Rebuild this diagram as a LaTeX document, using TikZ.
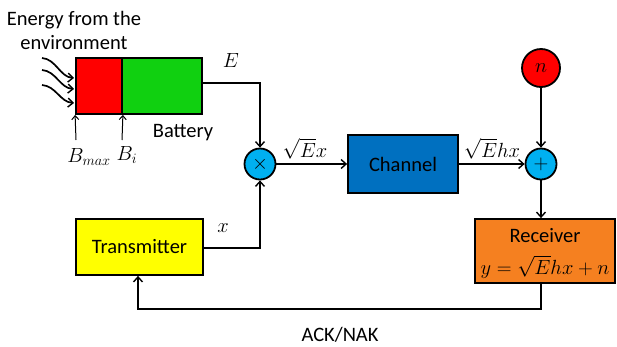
\RequirePackage{fix-cm}
\documentclass[tikz,border=0pt]{standalone}
\usepackage{fontspec}
\setmainfont{Carlito}
\usetikzlibrary{arrows.meta}
\definecolor{cred}{RGB}{255,0,0}
\definecolor{cgreen}{RGB}{16,208,16}
\definecolor{cyellow}{RGB}{255,255,0}
\definecolor{cblue}{RGB}{0,112,192}
\definecolor{ccyan}{RGB}{0,176,240}
\definecolor{corange}{RGB}{245,128,32}
\begin{document}
\begin{tikzpicture}[x=1pt,y=-1pt,
  every node/.style={font=\fontsize{20.5}{24}\selectfont, inner sep=0pt},
  blk/.style={draw=black, line width=1.8pt, rectangle, align=center},
  opc/.style={draw=black, line width=1.8pt, circle, fill=ccyan, minimum size=31pt},
  wire/.style={line width=1.7pt},
  arr/.style={wire, -{Straight Barb[length=5pt,width=9pt,line width=1.4pt]}},
  sarr/.style={line width=1pt, -{Straight Barb[length=4pt,width=7pt,line width=1pt]}}]
\useasboundingbox (0,0) rectangle (617,346);
% battery
\node[blk, fill=cred, minimum width=46pt, minimum height=56pt] (red) at (99,86) {};
\node[blk, fill=cgreen, minimum width=80pt, minimum height=56pt] (green) at (162,86) {};
\node (bat) at (183,133) {Battery};
\node[align=center] (env) at (74,30) {Energy from the\\environment};
% wavy arrows
\coordinate (w1) at (42,58);
\coordinate (w2) at (42,70);
\coordinate (w3) at (42,85);
\draw[arr] (w1) .. controls (56,59) and (60,77) .. (74,78);
\draw[arr] (w2) .. controls (56,71) and (60,88) .. (74,89);
\draw[arr] (w3) .. controls (56,86) and (60,102) .. (74,103);
% B labels
\node (bmax) at (89,157) {$B_{max}$};
\node (bi) at (127,155) {$B_i$};
\coordinate (bm0) at (76,140);
\coordinate (bi0) at (122,140);
\draw[sarr] (bm0) -- (red.south west);
\draw[sarr] (bi0) -- (red.south east);
% operators
\node[opc] (mul) at (260,164) {$\times$};
\node[blk, fill=cblue, minimum width=110pt, minimum height=58pt] (chan) at (403,164) {Channel};
\node[opc] (plus) at (541,164) {$+$};
\node[draw=black, line width=1.8pt, circle, fill=cred, minimum size=38pt] (n) at (541,68) {$n$};
\node[blk, fill=cyellow, minimum width=127pt, minimum height=56pt] (tx) at (139.5,247) {Transmitter};
\node[blk, fill=corange, minimum width=140pt, minimum height=64pt] (rx) at (545,251) {};
\node (rxt) at (545,236) {Receiver};
\node (rxe) at (545,267) {$y=\sqrt{E}hx+n$};
% labels
\node (E) at (231,60) {$E$};
\node (xl) at (223,228) {$x$};
\node (ex) at (305,149) {$\sqrt{E}x$};
\node (ehx) at (492,149) {$\sqrt{E}hx$};
\node (ack) at (340,335) {ACK/NAK};
% connections
\draw[arr] (green.east |- 0,83) -| (mul.north);
\draw[arr] (tx.east |- 0,248) -| (mul.south);
\draw[arr] (mul) -- (chan);
\draw[arr] (chan) -- (plus);
\draw[arr] (n) -- (plus);
\draw[arr] (plus) -- (plus |- rx.north);
\coordinate (fb) at (541,309);
\draw[arr] (plus |- rx.south) -- (fb) -| (tx.south -| 138,0);
\end{tikzpicture}
\end{document}
